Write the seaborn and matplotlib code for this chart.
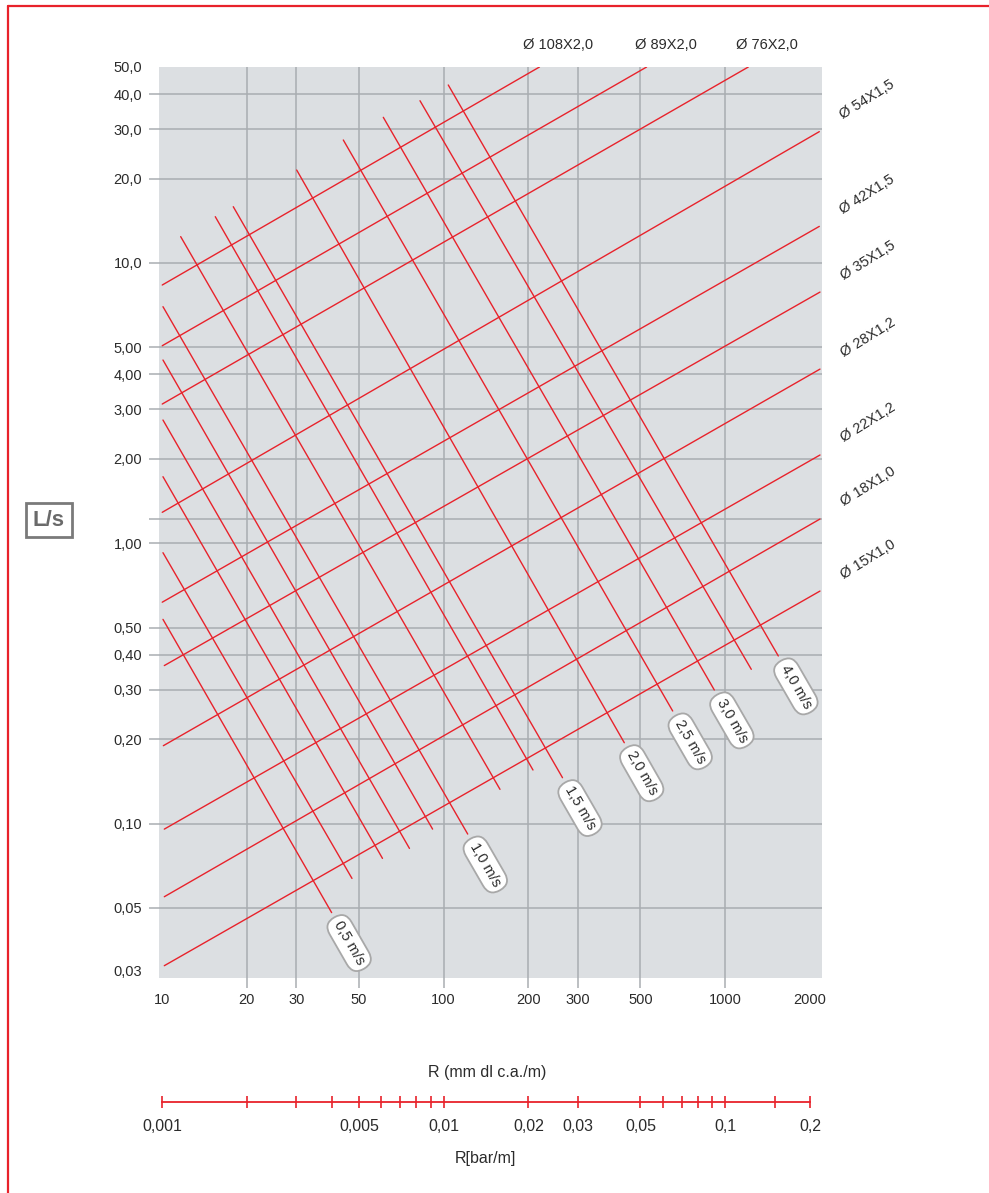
import numpy as np
import pandas as pd
import matplotlib
matplotlib.use("Agg")
import matplotlib.pyplot as plt
import seaborn as sns
from matplotlib.ticker import FixedLocator, FuncFormatter, NullLocator
from matplotlib.lines import Line2D

# pipe lines: start / end points (R in mm c.a./m, Q in L/s)
pipe_names = ["Ø 15X1,0", "Ø 18X1,0", "Ø 22X1,2", "Ø 28X1,2", "Ø 35X1,5",
              "Ø 42X1,5", "Ø 54X1,5", "Ø 76X2,0", "Ø 89X2,0", "Ø 108X2,0"]
pipe_r0 = [10.19, 10.19, 10.19, 10.11, 10.19, 10.02, 10.02, 10.02, 10.02, 10.02]
pipe_q0 = [0.0311, 0.0548, 0.0955, 0.1895, 0.366, 0.616, 1.289, 3.137, 5.065, 8.34]
pipe_r1 = [2171, 2171, 2171, 2171, 2171, 2159, 2159, 1208, 526, 219]
pipe_q1 = [0.675, 1.22, 2.064, 4.18, 7.87, 13.5, 29.4, 50.0, 50.0, 50.0]

# velocity lines (only some carry a label)
vel_labels = ["0,5 m/s", "", "", "", "", "1,0 m/s", "", "", "1,5 m/s",
              "2,0 m/s", "2,5 m/s", "3,0 m/s", "", "4,0 m/s"]
vel_r0 = [10.08, 10.08, 10.08, 10.08, 10.08, 10.08, 11.65, 15.46, 17.91,
          30.08, 44.04, 61.08, 82.45, 103.9]
vel_q0 = [0.535, 0.925, 1.727, 2.751, 4.504, 6.98, 12.41, 14.62, 15.87,
          21.45, 27.45, 33.07, 37.9, 43.13]
vel_r1 = [40.03, 47.28, 60.67, 75.65, 91.4, 121.8, 158.6, 207.7, 264.4,
          438.2, 651, 914.9, 1238, 1544]
vel_q1 = [0.0481, 0.0637, 0.0751, 0.0815, 0.0955, 0.0917, 0.1324, 0.1552,
          0.1457, 0.1942, 0.252, 0.2995, 0.3549, 0.396]

# axis ticks
x_grid = [20, 30, 50, 100, 200, 300, 500, 1000]
x_extra = [10, 2000]
x_labels = {10: "10", 20: "20", 30: "30", 50: "50", 100: "100", 200: "200",
            300: "300", 500: "500", 1000: "1000", 2000: "2000"}
y_grid = [40, 30, 20, 10, 5, 4, 3, 2, 1.22, 1, 0.5, 0.4, 0.3, 0.2, 0.1, 0.05]
y_extra = [50, 0.03]
y_labels = {50: "50,0", 40: "40,0", 30: "30,0", 20: "20,0", 10: "10,0",
            5: "5,00", 4: "4,00", 3: "3,00", 2: "2,00", 1: "1,00",
            0.5: "0,50", 0.4: "0,40", 0.3: "0,30", 0.2: "0,20", 0.1: "0,10",
            0.05: "0,05", 0.03: "0,03"}
bar_ticks = [0.001, 0.002, 0.003, 0.004, 0.005, 0.006, 0.007, 0.008, 0.009,
             0.01, 0.02, 0.03, 0.05, 0.06, 0.07, 0.08, 0.09, 0.1, 0.15, 0.2]
bar_labels = {0.001: "0,001", 0.005: "0,005", 0.01: "0,01", 0.02: "0,02",
              0.03: "0,03", 0.05: "0,05", 0.1: "0,1", 0.2: "0,2"}

RED = "#e8222b"
GRID = "#a9adb1"
BG = "#dcdfe2"
TXT = "#2b2b2b"

sns.set_style("white")
plt.rcParams["font.family"] = ["Liberation Sans", "DejaVu Sans"]

fig = plt.figure(figsize=(9.89, 11.93), dpi=100)
ax = fig.add_axes([0.16077, 0.18022, 0.67037, 0.76362])
ax.set_facecolor(BG)
ax.set_xscale("log")
ax.set_yscale("log")
ax.set_xlim(9.758, 2207)
ax.set_ylim(0.02811, 50)

# long form table of all line segments
rows = []
for i in range(len(pipe_names)):
    rows.append(("p%d" % i, pipe_r0[i], pipe_q0[i]))
    rows.append(("p%d" % i, pipe_r1[i], pipe_q1[i]))
for i in range(len(vel_labels)):
    rows.append(("v%d" % i, vel_r0[i], vel_q0[i]))
    rows.append(("v%d" % i, vel_r1[i], vel_q1[i]))
df = pd.DataFrame(rows, columns=["line", "R", "Q"])

sns.lineplot(data=df, x="R", y="Q", units="line", estimator=None,
             color=RED, lw=1.0, ax=ax, legend=False)

# ticks / grid
def fmt(d):
    return FuncFormatter(lambda v, p: d.get(round(v, 4), ""))

ax.xaxis.set_major_locator(FixedLocator(x_grid))
ax.xaxis.set_minor_locator(FixedLocator(x_extra))
ax.yaxis.set_major_locator(FixedLocator(y_grid))
ax.yaxis.set_minor_locator(FixedLocator(y_extra))
for a, d in ((ax.xaxis, x_labels), (ax.yaxis, y_labels)):
    a.set_major_formatter(fmt(d))
    a.set_minor_formatter(fmt(d))
ax.tick_params(which="both", bottom=True, left=True, top=False, right=False)
ax.tick_params(which="major", length=7.5, width=1.1, color=GRID,
               labelsize=10.5, labelcolor=TXT)
ax.tick_params(which="minor", length=0, labelsize=10.5, labelcolor=TXT)
ax.tick_params(axis="x", which="major", pad=3)
ax.tick_params(axis="x", which="minor", pad=10.5)
ax.tick_params(axis="y", which="major", pad=4.5)
ax.tick_params(axis="y", which="minor", pad=12)
ax.grid(True, which="major", color=GRID, lw=1.1)
ax.grid(False, which="minor")
ax.set_axisbelow(True)
for s in ax.spines.values():
    s.set_visible(False)
ax.set_xlabel("")
ax.set_ylabel("")

# velocity labels at the end of the lines
for r0, q0, r1, q1, lab in zip(vel_r0, vel_q0, vel_r1, vel_q1, vel_labels):
    if not lab:
        continue
    p0 = ax.transData.transform((r0, q0))
    p1 = ax.transData.transform((r1, q1))
    d = p1 - p0
    ang = np.degrees(np.arctan2(d[1], d[0]))
    u = d / np.hypot(d[0], d[1]) * 11
    ax.annotate(lab, xy=(r1, q1), xytext=(u[0], u[1]), textcoords="offset pixels",
                rotation=ang, rotation_mode="anchor", ha="left", va="center",
                fontsize=10.5, color=TXT, annotation_clip=False,
                bbox=dict(boxstyle="round,pad=0.38,rounding_size=0.85",
                          fc="white", ec="#a8a8a8", lw=1.3))

# pipe labels
for i, name in enumerate(pipe_names):
    if pipe_q1[i] >= 50:
        ax.annotate(name, xy=(pipe_r1[i], pipe_q1[i]), xytext=(19, 22),
                    textcoords="offset pixels", ha="center", va="center",
                    fontsize=10.5, color=TXT, annotation_clip=False)
    else:
        ax.annotate(name, xy=(pipe_r1[i], pipe_q1[i]), xytext=(48, 32),
                    textcoords="offset pixels", ha="center", va="center",
                    rotation=32, rotation_mode="anchor", fontsize=10.5,
                    color=TXT, annotation_clip=False)

# L/s box
fig.text(0.0495, 0.5641, "L/s", ha="center", va="center", fontsize=16,
         fontweight="bold", fontstretch="condensed", color="#6a6a6a",
         bbox=dict(boxstyle="square,pad=0.3", fc="white", ec="#7a7a7a", lw=2))

fig.text(0.4924, 0.1014, "R (mm dl c.a./m)", ha="center", va="center",
         fontsize=11.5, color=TXT)

# second scale in bar/m
ax2 = fig.add_axes([0.16077, 0.0763, 0.67037, 0.0001])
ax2.set_facecolor("none")
ax2.set_xscale("log")
ax2.set_xlim(9.758e-4, 0.2207)
ax2.set_yticks([])
for s in ("top", "left", "right"):
    ax2.spines[s].set_visible(False)
ax2.spines["bottom"].set_color(RED)
ax2.spines["bottom"].set_linewidth(1.3)
ax2.spines["bottom"].set_bounds(0.001, 0.2)
ax2.xaxis.set_major_locator(FixedLocator(bar_ticks))
ax2.xaxis.set_minor_locator(NullLocator())
ax2.xaxis.set_major_formatter(fmt(bar_labels))
ax2.tick_params(axis="x", bottom=True, top=False, direction="inout", length=9,
                width=1.2, color=RED, labelsize=11.5, labelcolor=TXT, pad=8)

fig.text(0.4904, 0.0293, "R[bar/m]", ha="center", va="center",
         fontsize=11.5, color=TXT)

# red frame (left and top)
fig.add_artist(Line2D([8 / 989, 8 / 989], [0, 1 - 6 / 1193],
                      transform=fig.transFigure, color=RED, lw=1.6))
fig.add_artist(Line2D([8 / 989, 1], [1 - 6 / 1193, 1 - 6 / 1193],
                      transform=fig.transFigure, color=RED, lw=1.6))

fig.savefig("out.png", dpi=100)
